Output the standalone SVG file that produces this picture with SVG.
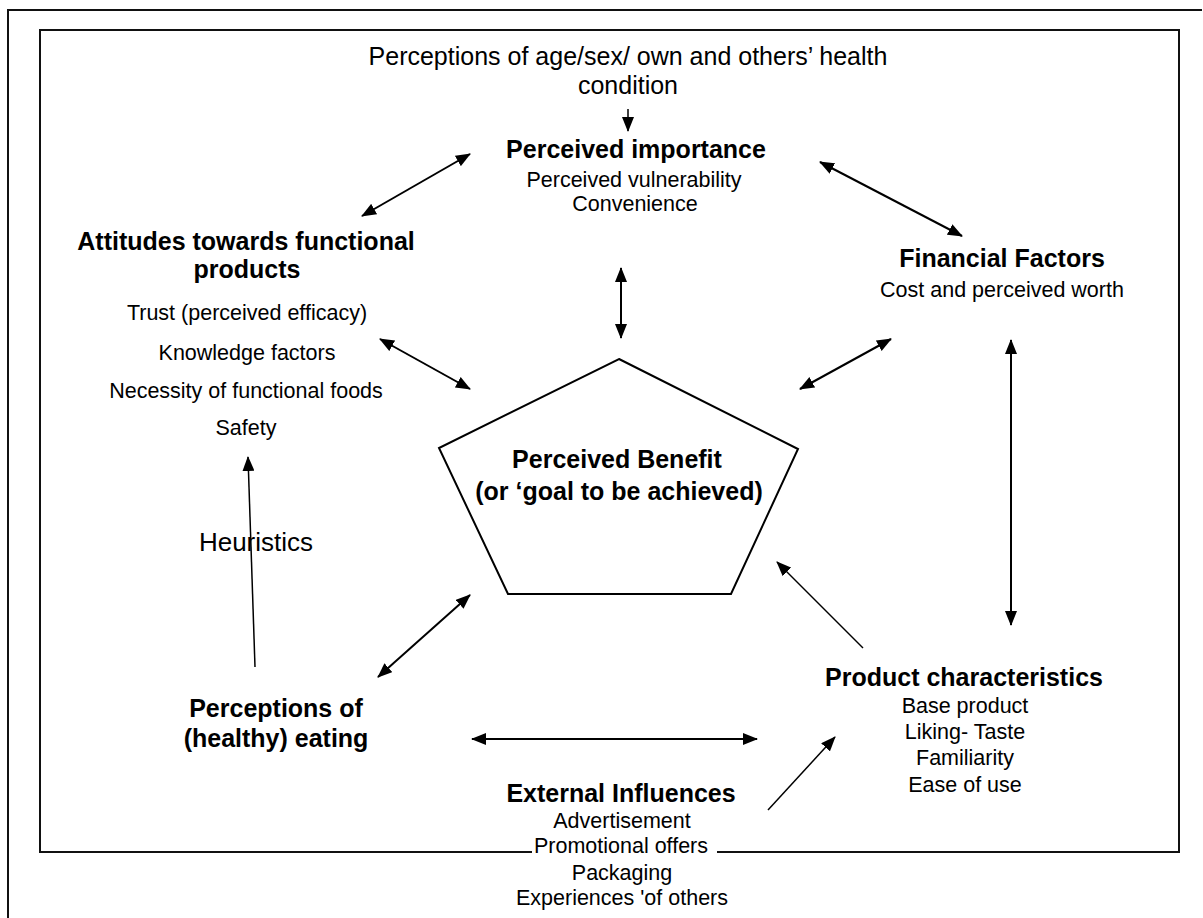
<svg xmlns="http://www.w3.org/2000/svg" width="1203" height="918" viewBox="0 0 1203 918">
<style>
text{font-family:"Liberation Sans",Arial,sans-serif;fill:#000;text-anchor:middle}
.t{font-weight:bold;font-size:25px}
.s{font-size:21.5px}
.top{font-size:25px}
.frame{fill:none;stroke:#111;stroke-width:2}
.c{stroke:#000;stroke-width:2;fill:none}
.c1{stroke:#000;stroke-width:1.5;fill:none}
</style>
<defs>
<marker id="ah" markerUnits="userSpaceOnUse" markerWidth="15" markerHeight="12" refX="14" refY="6" orient="auto-start-reverse" viewBox="0 0 15 12">
<path d="M0,0 L15,6 L0,12 z" fill="#000"/>
</marker>
</defs>
<rect width="1203" height="918" fill="#fff"/>
<g id="frames">
<path class="frame" d="M8,930 L8,10 L1202,10"/>
<path class="frame" d="M532,852 L40,852 L40,30 L1179,30 L1179,852 L717,852"/>
</g>
<g id="connectors">
<line class="c1" x1="628" y1="109" x2="628" y2="131" marker-end="url(#ah)"/>
<line class="c" x1="470" y1="154" x2="362" y2="216" marker-start="url(#ah)" marker-end="url(#ah)"/>
<line class="c" x1="820" y1="162" x2="962" y2="236" marker-start="url(#ah)" marker-end="url(#ah)"/>
<line class="c" x1="621" y1="268" x2="621" y2="338" marker-start="url(#ah)" marker-end="url(#ah)"/>
<line class="c" x1="380" y1="339" x2="470" y2="389" marker-start="url(#ah)" marker-end="url(#ah)"/>
<line class="c" x1="891" y1="339" x2="800" y2="389" marker-start="url(#ah)" marker-end="url(#ah)"/>
<line class="c" x1="1011" y1="340" x2="1011" y2="625" marker-start="url(#ah)" marker-end="url(#ah)"/>
<line class="c1" x1="255" y1="667" x2="248" y2="457" marker-end="url(#ah)"/>
<line class="c" x1="470" y1="595" x2="378" y2="677" marker-start="url(#ah)" marker-end="url(#ah)"/>
<line class="c" x1="472" y1="739" x2="757" y2="739" marker-start="url(#ah)" marker-end="url(#ah)"/>
<line class="c1" x1="863" y1="648" x2="777" y2="562" marker-end="url(#ah)"/>
<line class="c1" x1="768" y1="810" x2="835" y2="737" marker-end="url(#ah)"/>
</g>
<g id="top-perceptions">
<text class="top" x="628" y="65">Perceptions of age/sex/ own and others’ health</text>
<text class="top" x="628" y="94">condition</text>
</g>
<g id="perceived-importance">
<text class="t" x="636" y="158">Perceived importance</text>
<text class="s" x="634" y="187">Perceived vulnerability</text>
<text class="s" x="635" y="211">Convenience</text>
</g>
<g id="attitudes">
<text class="t" x="246" y="250">Attitudes towards functional</text>
<text class="t" x="247" y="278">products</text>
<text class="s" x="247" y="320">Trust (perceived efficacy)</text>
<text class="s" x="247" y="360">Knowledge factors</text>
<text class="s" x="246" y="398">Necessity of functional foods</text>
<text class="s" x="246" y="435">Safety</text>
</g>
<g id="financial">
<text class="t" x="1002" y="267">Financial Factors</text>
<text class="s" x="1002" y="297">Cost and perceived worth</text>
</g>
<g id="benefit">
<polygon points="619,359 798,449 731,594 508,594 439,448" fill="#fff" stroke="#000" stroke-width="2"/>
<text class="t" x="617" y="468">Perceived Benefit</text>
<text class="t" x="619" y="500">(or ‘goal to be achieved)</text>
</g>
<g id="heuristics">
<text x="256" y="551" style="font-size:26px">Heuristics</text>
</g>
<g id="healthy-eating">
<text class="t" x="276" y="717">Perceptions of</text>
<text class="t" x="276" y="747">(healthy) eating</text>
</g>
<g id="product">
<text class="t" x="964" y="686">Product characteristics</text>
<text class="s" x="965" y="713">Base product</text>
<text class="s" x="965" y="739">Liking- Taste</text>
<text class="s" x="965" y="765">Familiarity</text>
<text class="s" x="965" y="792">Ease of use</text>
</g>
<g id="external">
<text class="t" x="621" y="802">External Influences</text>
<text class="s" x="622" y="828">Advertisement</text>
<text class="s" x="621" y="853">Promotional offers</text>
<text class="s" x="622" y="880">Packaging</text>
<text class="s" x="622" y="905">Experiences 'of others</text>
</g>
</svg>
